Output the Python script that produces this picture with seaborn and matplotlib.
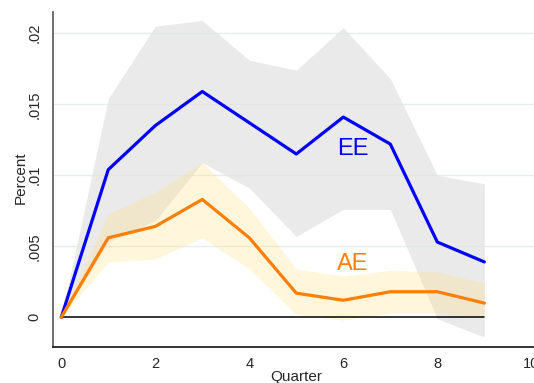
import matplotlib
matplotlib.use("Agg")
import matplotlib.pyplot as plt
import seaborn as sns
import pandas as pd

# Impulse responses by quarter with confidence bands
quarter = [0, 1, 2, 3, 4, 5, 6, 7, 8, 9]
ee = [0, 0.0104, 0.0135, 0.0159, 0.0137, 0.0115, 0.0141, 0.0122, 0.0053, 0.0039]
ee_lo = [0, 0.0053, 0.0068, 0.0109, 0.0091, 0.0057, 0.0076, 0.0076, -0.0001, -0.0014]
ee_hi = [0, 0.0154, 0.0205, 0.0209, 0.0181, 0.0174, 0.0204, 0.0168, 0.0100, 0.0094]
ae = [0, 0.0056, 0.0064, 0.0083, 0.0056, 0.0017, 0.0012, 0.0018, 0.0018, 0.0010]
ae_lo = [0, 0.0039, 0.0041, 0.0056, 0.0034, 0.0002, -0.0002, 0.0003, 0.0003, 0.0000]
ae_hi = [0, 0.0073, 0.0088, 0.0109, 0.0077, 0.0034, 0.0029, 0.0033, 0.0032, 0.0024]
zero = [0] * len(quarter)

xticks = [0, 2, 4, 6, 8, 10]
xticklabels = ["0", "2", "4", "6", "8", "10"]
yticks = [0, 0.005, 0.01, 0.015, 0.02]
yticklabels = ["0", ".005", ".01", ".015", ".02"]

df = pd.DataFrame({"quarter": quarter, "ee": ee, "ae": ae, "zero": zero})

sns.set_style("white")
plt.rcParams["font.family"] = ["Liberation Sans", "DejaVu Sans"]

fig = plt.figure(figsize=(5.34, 3.83), dpi=100)
ax = fig.add_axes([53.3 / 534, 1 - 346.7 / 383, (534 - 53.3) / 534, (346.7 - 12) / 383])

# horizontal grid
for yv in yticks[1:]:
    ax.axhline(yv, color="#E4EEEF", lw=1.0, zorder=0)

# confidence bands
ax.fill_between(quarter, ee_lo, ee_hi, color="#E3E3E3", alpha=0.75, lw=0, zorder=1)
ax.fill_between(quarter, ae_lo, ae_hi, color="#FFDF80", alpha=0.28, lw=0, zorder=2)

sns.lineplot(data=df, x="quarter", y="zero", color="black", lw=1.1, ax=ax, zorder=3)
sns.lineplot(data=df, x="quarter", y="ee", color="#0000FF", lw=2.3, ax=ax, zorder=4)
sns.lineplot(data=df, x="quarter", y="ae", color="#FF7F00", lw=2.3, ax=ax, zorder=4)

ax.text(6.2, 0.01185, "EE", color="#0000FF", fontsize=17, ha="center", va="center")
ax.text(6.2, 0.00377, "AE", color="#FF7F00", fontsize=17, ha="center", va="center")

ax.set_xlim(-0.17, 10.057)
ax.set_ylim(-0.00207, 0.0215)
ax.set_xticks(xticks)
ax.set_xticklabels(xticklabels)
ax.set_yticks(yticks)
ax.set_yticklabels(yticklabels, rotation=90, va="center")
ax.tick_params(axis="both", labelsize=10.5, length=4.5, width=1, color="#444444", direction="out")
ax.tick_params(axis="y", pad=4)
ax.tick_params(axis="x", pad=3)

ax.set_xlabel("Quarter", fontsize=11)
ax.set_ylabel("Percent", fontsize=11)
ax.xaxis.set_label_coords(0.506, -0.071)
ax.yaxis.set_label_coords(-0.053, 0.504)

for side in ["top", "right"]:
    ax.spines[side].set_visible(False)
ax.spines["left"].set_color("#555555")
ax.spines["bottom"].set_color("#111111")
ax.spines["left"].set_linewidth(1.2)
ax.spines["bottom"].set_linewidth(1.2)

fig.savefig("out.png", dpi=100)
